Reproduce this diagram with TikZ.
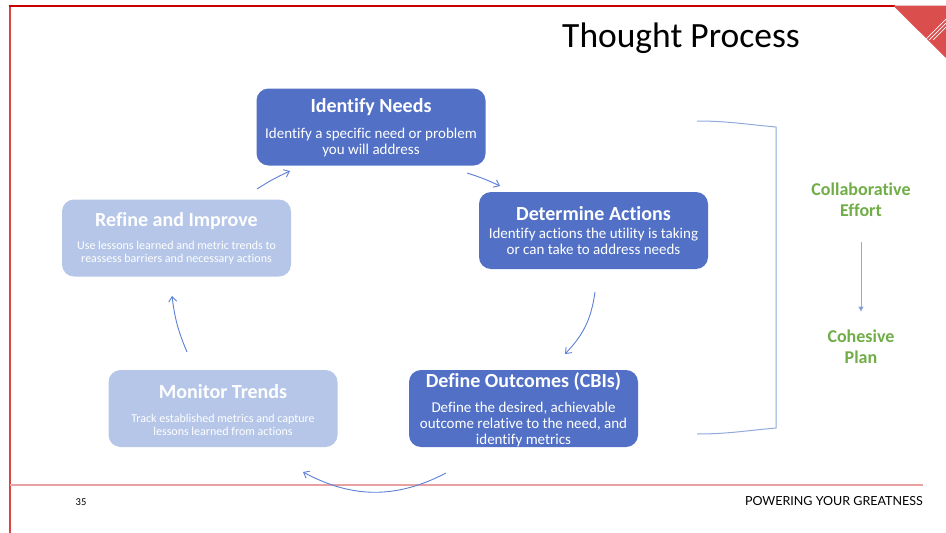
\documentclass[tikz,border=0pt]{standalone}
\usepackage{fontspec}
\setmainfont{Carlito}[Ligatures=NoCommon]
\newfontfamily\tagfont{Lato}
\usetikzlibrary{arrows.meta}

\definecolor{boxdark}{HTML}{5271C6}
\definecolor{boxlight}{HTML}{B5C6E8}
\definecolor{cycblue}{HTML}{5B7FD6}
\definecolor{brackblue}{HTML}{8FAADC}
\definecolor{plangreen}{HTML}{70AD47}
\definecolor{framered}{HTML}{D94545}
\definecolor{topred}{HTML}{C80000}
\definecolor{footred}{HTML}{E8A0A0}

\begin{document}
\begin{tikzpicture}[x=1pt, y=-1pt,
    darkstage/.style={fill=boxdark, rounded corners=12pt, minimum width=229pt, minimum height=77pt},
    lightstage/.style={fill=boxlight, rounded corners=12pt, minimum width=229pt, minimum height=77pt},
    head/.style={text=white, font=\bfseries\fontsize{20}{23}\selectfont},
    body/.style={text=white, align=center, font=\fontsize{15}{16.2}\selectfont},
    smallbody/.style={text=white, align=center, font=\fontsize{12}{13.3}\selectfont},
    cyc/.style={draw=cycblue, line width=0.9pt, -{Straight Barb[length=5pt,width=8pt]}},
    greenlabel/.style={text=plangreen, align=center, font=\bfseries\fontsize{18}{21}\selectfont}]
    \useasboundingbox (0,0) rectangle (946,533);

    % Frame
    \draw[framered, line width=2pt] (10,533) -- (10,6);
    \draw[topred, line width=1.2pt] (9,6) -- (895,6);
    \fill[framered!95!white] (893,5.5) -- (946,5.5) -- (946,58) -- cycle;
    \begin{scope}
        \clip (893,5.5) -- (946,5.5) -- (946,58) -- cycle;
        \foreach \d in {0,4,8}
            \draw[white, line width=0.7pt] (925+\d,40) -- (946+\d,19);
    \end{scope}
    \draw[footred, line width=1.5pt] (10,485) -- (923,485);

    % Texts
    \node (title) at (681,38) {\fontsize{35.5}{40}\selectfont Thought Process};
    \node (pagenum) at (81,502) {\fontsize{10.5}{12}\selectfont 35};
    \node[anchor=east, inner sep=0pt] (tagline) at (923,501)
        {\tagfont\fontsize{12.5}{14}\selectfont POWERING YOUR GREATNESS};

    % Stages
    \node[darkstage] (needs) at (371,127) {};
    \node[head] (needs-h) at (371,107) {Identify Needs};
    \node[body] (needs-b) at (371,142.5) {Identify a specific need or problem\\you will address};

    \node[darkstage] (actions) at (593.5,230.5) {};
    \node[head] (actions-h) at (593.5,214) {Determine Actions};
    \node[body] (actions-b) at (593.5,241.5) {Identify actions the utility is taking\\or can take to address needs};

    \node[darkstage] (outcomes) at (523.5,408.5) {};
    \node[head] (outcomes-h) at (523.5,382) {Define Outcomes (CBIs)};
    \node[body] (outcomes-b) at (523.5,424.5) {Define the desired, achievable\\outcome relative to the need, and\\identify metrics};

    \node[lightstage] (monitor) at (223,408.5) {};
    \node[head] (monitor-h) at (223,392) {Monitor Trends};
    \node[smallbody] (monitor-b) at (223,425) {Track established metrics and capture\\lessons learned from actions};

    \node[lightstage] (refine) at (176.5,238) {};
    \node[head] (refine-h) at (176.5,221) {Refine and Improve};
    \node[smallbody] (refine-b) at (176.5,253) {Use lessons learned and metric trends to\\reassess barriers and necessary actions};

    % Cycle arrows
    \coordinate (r2n-a) at (257,189);
    \coordinate (r2n-b) at (290,171);
    \coordinate (n2a-a) at (467,173);
    \coordinate (n2a-b) at (500,186);
    \coordinate (a2o-a) at (595,292);
    \coordinate (a2o-b) at (565,354);
    \coordinate (o2m-a) at (446,473);
    \coordinate (o2m-b) at (303,472);
    \coordinate (m2r-a) at (187,352);
    \coordinate (m2r-b) at (172,296);
    \draw[cyc] (r2n-a) to[bend left=4] (r2n-b);
    \draw[cyc] (n2a-a) to[bend left=4] (n2a-b);
    \draw[cyc] (a2o-a) to[bend left=18] (a2o-b);
    \draw[cyc] (o2m-a) to[bend left=28] (o2m-b);
    \draw[cyc] (m2r-a) to[bend left=8] (m2r-b);

    % Bracket
    \coordinate (br-top) at (697,121);
    \coordinate (br-bot) at (697,434);
    \draw[brackblue, line width=1pt] (br-top) to[out=0, in=175] (776,127) -- (776,428)
        to[out=185, in=0] (br-bot);

    % Right side
    \node[greenlabel] (collab) at (861,199.5) {Collaborative\\Effort};
    \node[greenlabel] (cohesive) at (861,347) {Cohesive\\Plan};
    \draw[brackblue, line width=1pt, shorten <=22pt, shorten >=15pt,
        -{Triangle[length=5pt,width=5pt,fill=boxdark]}] (collab) -- (cohesive);
\end{tikzpicture}
\end{document}
